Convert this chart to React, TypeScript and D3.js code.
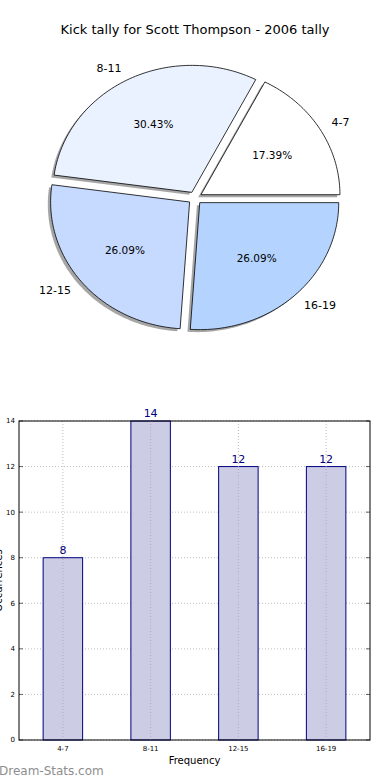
import React from "react";
import * as d3 from "d3";

const WIDTH = 390;
const HEIGHT = 780;

const TITLE = "Kick tally for Scott Thompson - 2006 tally";
const categories = ["4-7", "8-11", "12-15", "16-19"];
const kicks = [8, 14, 12, 12];
const sliceColors = ["#ffffff", "#eaf2ff", "#c6d9ff", "#b4d4ff"];
const yTicks = [0, 2, 4, 6, 8, 10, 12, 14];

const FONT = "DejaVu Sans, sans-serif";

// pie geometry (matplotlib pie without equal aspect -> ellipse)
const pieC = { x: 195, y: 198 };
const rx = 139;
const ry = 127;
const explode = 0.05;

// bar axes frame
const margin = { top: 421, right: 20, bottom: 40, left: 19 };
const plotW = WIDTH - margin.left - margin.right;
const plotH = HEIGHT - margin.top - margin.bottom;

function slicePath(a0: number, a1: number, ox: number, oy: number) {
  const steps = Math.max(8, Math.ceil(Math.abs(a1 - a0) * 40));
  const pts: [number, number][] = [[pieC.x + ox, pieC.y + oy]];
  for (let i = 0; i <= steps; i++) {
    const a = a0 + ((a1 - a0) * i) / steps;
    pts.push([pieC.x + ox + rx * Math.sin(a), pieC.y + oy - ry * Math.cos(a)]);
  }
  return d3.line()(pts) + "Z";
}

function PieChart() {
  const total = d3.sum(kicks);
  // counter-clockwise from 3 o'clock, like matplotlib
  const arcs = d3
    .pie<number>()
    .sort(null)
    .startAngle(Math.PI / 2)
    .endAngle(Math.PI / 2 - 2 * Math.PI)(kicks);

  return (
    <g>
      {arcs.map((d, i) => {
        const mid = (d.startAngle + d.endAngle) / 2;
        const ox = explode * rx * Math.sin(mid);
        const oy = -explode * ry * Math.cos(mid);
        const p = slicePath(d.startAngle, d.endAngle, ox, oy);
        const sx = Math.sin(mid);
        const cy = Math.cos(mid);
        const lx = pieC.x + ox + 1.1 * rx * sx;
        const ly = pieC.y + oy - 1.1 * ry * cy;
        const px = pieC.x + ox + 0.6 * rx * sx;
        const py = pieC.y + oy - 0.6 * ry * cy;
        return (
          <g key={categories[i]}>
            <path d={p} transform="translate(-2.8,2.5)" fill="#4d4d4d" opacity={0.5} />
            <path d={p} fill={sliceColors[i]} stroke="#000" strokeWidth={0.8} />
            <text
              x={lx}
              y={ly}
              dy="0.35em"
              textAnchor={sx >= 0 ? "start" : "end"}
              fontSize={11}
              fontFamily={FONT}
            >
              {categories[i]}
            </text>
            <text
              x={px}
              y={py}
              dy="0.35em"
              textAnchor="middle"
              fontSize={10.5}
              fontFamily={FONT}
            >
              {((d.value / total) * 100).toFixed(2)}%
            </text>
          </g>
        );
      })}
    </g>
  );
}

function BarChart() {
  const x = d3
    .scaleLinear()
    .domain([-0.5, categories.length - 0.5])
    .range([0, plotW]);
  const y = d3.scaleLinear().domain([0, 14]).range([plotH, 0]);
  const bw = x(0.45) - x(0);

  return (
    <g transform={`translate(${margin.left},${margin.top})`}>
      {/* grid */}
      {yTicks.map((t) => (
        <line
          key={"gy" + t}
          x1={0}
          x2={plotW}
          y1={y(t)}
          y2={y(t)}
          stroke="#b0b0b0"
          strokeWidth={0.8}
          strokeDasharray="1,2"
        />
      ))}
      {categories.map((c, i) => (
        <rect
          key={"b" + c}
          x={x(i) - bw / 2}
          y={y(kicks[i])}
          width={bw}
          height={plotH - y(kicks[i])}
          fill="#ccccE4"
          stroke="#000080"
          strokeWidth={1}
        />
      ))}
      {categories.map((c, i) => (
        <line
          key={"gx" + c}
          x1={x(i)}
          x2={x(i)}
          y1={0}
          y2={plotH}
          stroke="#a8a8a8"
          strokeWidth={0.8}
          strokeDasharray="1,2"
        />
      ))}
      {categories.map((c, i) => (
        <text
          key={"v" + c}
          x={x(i)}
          y={y(kicks[i]) - 4}
          textAnchor="middle"
          fontSize={11}
          fontFamily={FONT}
          fill="#000080"
        >
          {kicks[i]}
        </text>
      ))}
      {/* frame */}
      <rect x={0} y={0} width={plotW} height={plotH} fill="none" stroke="#000" strokeWidth={1} />
      {yTicks.map((t) => (
        <g key={"ty" + t}>
          <line x1={0} x2={4} y1={y(t)} y2={y(t)} stroke="#000" strokeWidth={0.6} />
          <line x1={plotW - 4} x2={plotW} y1={y(t)} y2={y(t)} stroke="#000" strokeWidth={0.6} />
          <text x={-4} y={y(t)} dy="0.35em" textAnchor="end" fontSize={7} fontFamily={FONT}>
            {t}
          </text>
        </g>
      ))}
      {categories.map((c, i) => (
        <text
          key={"tx" + c}
          x={x(i)}
          y={plotH + 11}
          textAnchor="middle"
          fontSize={7}
          fontFamily={FONT}
        >
          {c}
        </text>
      ))}
      <text x={plotW / 2} y={plotH + 24} textAnchor="middle" fontSize={10} fontFamily={FONT}>
        Frequency
      </text>
      {/* y label sits off the left edge, clipped as in the source image */}
      <text
        transform={`translate(${-margin.left + 2},${plotH / 2}) rotate(-90)`}
        textAnchor="middle"
        fontSize={10}
        fontFamily={FONT}
      >
        Occurrences
      </text>
    </g>
  );
}

export default function App() {
  return (
    <svg
      width={WIDTH}
      height={HEIGHT}
      style={{ position: "absolute", left: 0, top: 0, background: "#fff" }}
    >
      <rect width={WIDTH} height={HEIGHT} fill="#fff" />
      <text x={195} y={34} textAnchor="middle" fontSize={13} fontFamily={FONT}>
        {TITLE}
      </text>
      <PieChart />
      <BarChart />
      <text x={-1} y={775} fontSize={12} fontFamily={FONT} fill="#8e8e8e">
        Dream-Stats.com
      </text>
    </svg>
  );
}
